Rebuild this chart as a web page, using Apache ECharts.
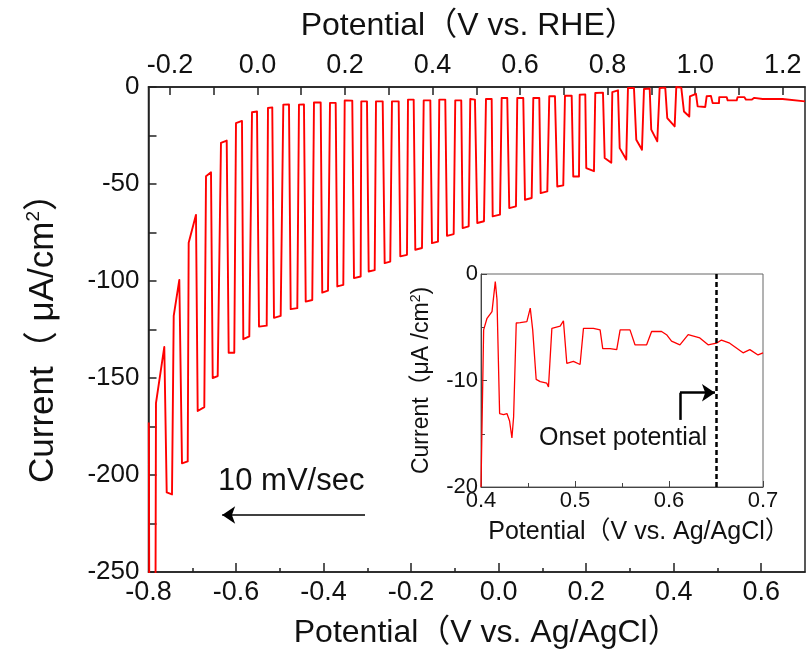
<!DOCTYPE html>
<html>
<head>
<meta charset="utf-8">
<script src="https://cdn.jsdelivr.net/npm/echarts@6/dist/echarts.min.js"></script>
<style>html,body{margin:0;padding:0;background:#fff}#c{width:809px;height:657px}</style>
</head>
<body>
<div id="c"></div>
<script>
// Main chopped-light LSV trace: [potential (V vs Ag/AgCl), current (uA/cm2)]
const mainTrace = [
  [-0.7993,-173],[-0.7982,-262],[-0.7840,-262],[-0.7829,-163],[-0.7639,-134],
  [-0.7584,-209],[-0.7463,-210],[-0.7424,-118],[-0.7296,-99.4],
  [-0.7235,-194],[-0.7104,-193],[-0.7082,-80.3],[-0.6915,-65.9],
  [-0.6876,-167],[-0.6725,-165],[-0.6686,-46],[-0.6572,-44],
  [-0.6533,-150],[-0.6419,-149],[-0.6344,-28.8],[-0.6213,-27.6],
  [-0.6168,-137],[-0.6040,-137],[-0.6001,-18.6],[-0.5864,-17.5],
  [-0.5834,-130],[-0.5697,-128.6],[-0.5635,-13.0],[-0.5521,-12.6],
  [-0.5475,-123.5],[-0.5299,-123],[-0.5270,-10.8],[-0.5172,-10.5],
  [-0.5133,-119],[-0.4980,-118],[-0.4920,-9.1],[-0.4790,-9.0],
  [-0.4751,-114.5],[-0.4600,-114],[-0.4562,-9.1],[-0.4448,-9.0],
  [-0.4408,-110.6],[-0.4258,-109.8],[-0.4219,-7.9],[-0.4066,-8.0],
  [-0.4030,-106],[-0.3899,-105],[-0.3853,-8.2],[-0.3723,-8.2],
  [-0.3686,-102.8],[-0.3549,-102],[-0.3517,-6.9],[-0.3344,-7.0],
  [-0.3305,-98.5],[-0.3152,-97.7],[-0.3138,-7.4],[-0.3008,-7.4],
  [-0.2969,-95.1],[-0.2832,-94.4],[-0.2802,-7.4],[-0.2649,-7.4],
  [-0.2604,-90.8],[-0.2476,-90.0],[-0.2437,-7.4],[-0.2284,-7.4],
  [-0.2247,-87.3],[-0.2094,-86.5],[-0.2071,-6.5],[-0.1941,-6.5],
  [-0.1904,-83.9],[-0.1751,-83.0],[-0.1712,-6.9],[-0.1561,-6.9],
  [-0.1523,-80.5],[-0.1386,-79.7],[-0.1356,-6.5],[-0.1219,-6.5],
  [-0.1180,-76.7],[-0.1027,-75.8],[-0.0991,-6.9],[-0.0854,-6.9],
  [-0.0822,-72.7],[-0.0684,-71.8],[-0.0648,-6.2],[-0.0541,-6.5],
  [-0.0488,-70.1],[-0.0335,-69.2],[-0.0289,-6.2],[-0.0159,-6.2],
  [-0.0136,-66.7],[0.0031,-65.8],[0.0069,-5.7],[0.0197,-5.7],
  [0.0243,-62.4],[0.0396,-61.5],[0.0426,-5.7],[0.0563,-5.7],
  [0.0602,-58.1],[0.0755,-57.2],[0.0792,-5.7],[0.0929,-5.7],
  [0.0961,-54.7],[0.1112,-53.8],[0.1157,-4.8],[0.1287,-4.8],
  [0.1340,-51.3],[0.1477,-50.7],[0.1516,-4.5],[0.1669,-4.5],
  [0.1705,-46.1],[0.1836,-46.1],[0.1852,-4.0],[0.1980,-3.8],
  [0.2002,-41.8],[0.2178,-43.4],[0.2208,-3.1],[0.2384,-2.9],
  [0.2423,-36.6],[0.2574,-39.0],[0.2597,-2.6],[0.2727,-1.7],
  [0.2766,-31.5],[0.2916,-37.4],[0.2955,-0.5],[0.3092,-0.5],
  [0.3145,-27.2],[0.3275,-32.3],[0.3321,-1.0],[0.3451,-0.8],
  [0.3487,-22.0],[0.3625,-28.0],[0.3679,-0.5],[0.3807,-0.3],
  [0.3853,-16.0],[0.4022,-20.3],[0.4059,0],[0.4173,-0.3],
  [0.4234,-12.6],[0.4356,-15.2],[0.4371,-4.8],[0.4509,-3.5],
  [0.4547,-10.0],[0.4721,-10.3],[0.4753,-4.8],[0.4851,-4.6],
  [0.4890,-8.3],[0.5034,-8.3],[0.5041,-5.2],[0.5210,-5.2],
  [0.5233,-6.9],[0.5439,-6.9],[0.5461,-5.2],[0.5612,-5.2],
  [0.5651,-6.5],[0.5788,-6.5],[0.5841,-5.6],[0.6033,-6.2],
  [0.6489,-6.2],[0.7000,-7.4]
];
// Inset trace (0.4-0.7 V vs Ag/AgCl)
const insetTrace = [
  [0.4,-20],[0.4028,-5.25],[0.4064,-4.16],[0.4117,-3.53],[0.4152,-0.72],[0.417,-2.4],
  [0.4198,-13.1],[0.424,-13.2],[0.4276,-13.1],[0.4304,-13.8],[0.4329,-15.4],[0.4347,-13.4],
  [0.4375,-4.6],[0.4417,-4.56],[0.4488,-4.47],[0.4524,-3.2],[0.455,-5.25],
  [0.4587,-9.9],[0.463,-10.1],[0.47,-10.25],[0.4718,-10.6],
  [0.4754,-5.1],[0.4842,-4.9],[0.4877,-4.4],[0.4913,-8.4],[0.4983,-8.2],[0.5054,-8.5],
  [0.509,-5.1],[0.5196,-5.1],[0.5267,-5.25],[0.5295,-7.0],[0.5373,-7.0],[0.5444,-7.1],
  [0.548,-5.25],[0.5585,-5.25],[0.5638,-6.65],[0.5762,-6.65],[0.5815,-5.4],[0.5921,-5.4],
  [0.5974,-5.7],[0.6027,-6.3],[0.6116,-6.65],[0.6204,-5.7],[0.6328,-6.0],[0.6416,-6.65],
  [0.6505,-6.5],[0.6558,-6.2],[0.6646,-6.5],[0.6788,-7.4],[0.686,-7.1],[0.6947,-7.6],[0.7,-7.4]
];
// Tick values
const agclMajor = [-0.8,-0.6,-0.4,-0.2,0,0.2,0.4,0.6];
const agclMinor = [-0.7,-0.5,-0.3,-0.1,0.1,0.3,0.5];
const rheLabels = [-0.2,0,0.2,0.4,0.6,0.8,1.0,1.2];
const rheTicks = [-0.2,-0.1,0,0.1,0.2,0.3,0.4,0.5,0.6,0.7,0.8,0.9,1.0,1.1,1.2];
const rheOffset = 0.551;        // V vs RHE = V vs Ag/AgCl + offset
const onsetPotential = 0.652;
const sweepArrow = [[-0.3053,-220.6],[-0.6317,-220.6]];
const onsetArrow = [[0.6117,-13.7],[0.6117,-11.15],[0.6489,-11.15]];

const FONT = "'Liberation Sans', Arial, 'Noto Sans CJK SC', sans-serif";
const AX = '#222';
const chart = echarts.init(document.getElementById('c'), null, {renderer:'canvas'});
const fmt1 = v => (Math.abs(v) < 1e-9 ? 0 : v).toFixed(1);

const option = {
  animation: false,
  backgroundColor: '#fff',
  textStyle: {fontFamily: FONT},
  grid: [
    {left: 148.5, top: 87, width: 656.5, height: 485, show: true, borderColor: AX, borderWidth: 1.5, backgroundColor: 'transparent'},
    {left: 481, top: 274, width: 282, height: 213, show: true, borderColor: '#666', borderWidth: 1, backgroundColor: '#fff'}
  ],
  xAxis: [
    {gridIndex: 0, type: 'value', position: 'bottom', min: -0.8, max: 0.7,
     axisLine: {show: true, onZero: false, lineStyle: {color: AX, width: 1.5}},
     axisTick: {inside: true, length: 9, customValues: agclMajor, lineStyle: {color: AX, width: 1.5}},
     axisLabel: {customValues: agclMajor, formatter: fmt1, fontSize: 27, color: '#111', margin: 7, fontFamily: FONT},
     splitLine: {show: false},
     name: 'Potential（V vs. Ag/AgCl）', nameLocation: 'middle', nameGap: 45,
     nameTextStyle: {fontSize: 32, color: '#111', fontFamily: FONT, padding: [0, 0, 0, 20]}},
    {gridIndex: 0, type: 'value', position: 'bottom', min: -0.8, max: 0.7,
     axisLine: {show: false, onZero: false},
     axisTick: {inside: true, length: 4, customValues: agclMinor, lineStyle: {color: AX, width: 1.5}},
     axisLabel: {show: false}, splitLine: {show: false}},
    {gridIndex: 0, type: 'value', position: 'top', min: -0.8 + rheOffset, max: 0.7 + rheOffset,
     axisLine: {show: true, onZero: false, lineStyle: {color: AX, width: 1.5}},
     axisTick: {inside: true, length: 8, customValues: rheTicks, lineStyle: {color: AX, width: 1.5}},
     axisLabel: {customValues: rheLabels, formatter: fmt1, fontSize: 27, color: '#111', margin: 8, fontFamily: FONT},
     splitLine: {show: false},
     name: 'Potential（V vs. RHE）', nameLocation: 'middle', nameGap: 45,
     nameTextStyle: {fontSize: 32, color: '#111', fontFamily: FONT, padding: [0, 16, 0, 0]}},
    {gridIndex: 1, type: 'value', min: 0.4, max: 0.7, interval: 0.1,
     axisLine: {show: true, onZero: false, lineStyle: {color: '#444', width: 1}},
     axisTick: {inside: true, length: 6, lineStyle: {color: '#444'}},
     minorTick: {show: true, splitNumber: 2, length: 4, lineStyle: {color: '#444'}},
     axisLabel: {formatter: fmt1, fontSize: 22, color: '#111', margin: 3, fontFamily: FONT},
     splitLine: {show: false},
     name: 'Potential（V vs. Ag/AgCl）', nameLocation: 'middle', nameGap: 33,
     nameTextStyle: {fontSize: 25, color: '#111', fontFamily: FONT, padding: [0, 0, 0, 34]}}
  ],
  yAxis: [
    {gridIndex: 0, type: 'value', min: -250, max: 0, interval: 50,
     axisLine: {show: true, onZero: false, lineStyle: {color: AX, width: 1.5}},
     axisTick: {inside: true, length: 8, lineStyle: {color: AX, width: 1.5}},
     minorTick: {show: true, splitNumber: 2, length: 8, lineStyle: {color: AX, width: 1.5}},
     axisLabel: {fontSize: 26, color: '#111', margin: 9, fontFamily: FONT},
     splitLine: {show: false},
     name: '{a|Current（ μA/cm}{s|2}{a|）}', nameLocation: 'middle', nameGap: 86, nameRotate: 90,
     nameTextStyle: {color: '#111', fontFamily: FONT,
       rich: {a: {fontSize: 35, lineHeight: 38, fontFamily: FONT, color: '#111'},
              s: {fontSize: 19, lineHeight: 38, verticalAlign: 'top', fontFamily: FONT, color: '#111'}}}},
    {gridIndex: 1, type: 'value', min: -20, max: 0, interval: 10,
     axisLine: {show: true, onZero: false, lineStyle: {color: '#444', width: 1}},
     axisTick: {inside: true, length: 6, lineStyle: {color: '#444'}},
     minorTick: {show: true, splitNumber: 2, length: 4, lineStyle: {color: '#444'}},
     axisLabel: {fontSize: 22, color: '#111', margin: 3, fontFamily: FONT},
     splitLine: {show: false},
     name: '{a|Current（μA /cm}{s|2}{a|)}', nameLocation: 'middle', nameGap: 46, nameRotate: 90,
     nameTextStyle: {color: '#111', fontFamily: FONT,
       rich: {a: {fontSize: 23, lineHeight: 26, fontFamily: FONT, color: '#111'},
              s: {fontSize: 14, lineHeight: 26, verticalAlign: 'top', fontFamily: FONT, color: '#111'}}}}
  ],
  series: [
    {type: 'line', xAxisIndex: 0, yAxisIndex: 0, data: mainTrace, showSymbol: false, symbol: 'none',
     lineStyle: {color: '#ff0000', width: 1.9, join: 'round'}, clip: true,
     markLine: {silent: true, symbol: ['none', 'arrow'], symbolSize: 13, label: {show: false},
       lineStyle: {color: '#000', width: 1.5, type: 'solid'},
       data: [[{coord: sweepArrow[0]}, {coord: sweepArrow[1]}]]}},
    {type: 'line', xAxisIndex: 3, yAxisIndex: 1, data: insetTrace, showSymbol: false, symbol: 'none',
     lineStyle: {color: '#ff0000', width: 1.3}, clip: true,
     markLine: {silent: true, symbol: ['none', 'none'], label: {show: false},
       lineStyle: {color: '#000', width: 2.5, type: 'solid'},
       data: [
         {xAxis: onsetPotential, lineStyle: {type: [5, 3], width: 2.5, color: '#000'}},
         [{coord: onsetArrow[0]}, {coord: onsetArrow[1]}],
         [{coord: onsetArrow[1]}, {coord: onsetArrow[2], symbol: 'arrow', symbolSize: 13}]
       ]}}
  ],
  graphic: [
    {type: 'text', left: 218, top: 466, style: {text: '10 mV/sec', font: '31px ' + FONT, fill: '#111'}},
    {type: 'text', left: 539, top: 426, style: {text: 'Onset potential', font: '25px ' + FONT, fill: '#111'}}
  ]
};
chart.setOption(option);
</script>
</body>
</html>
